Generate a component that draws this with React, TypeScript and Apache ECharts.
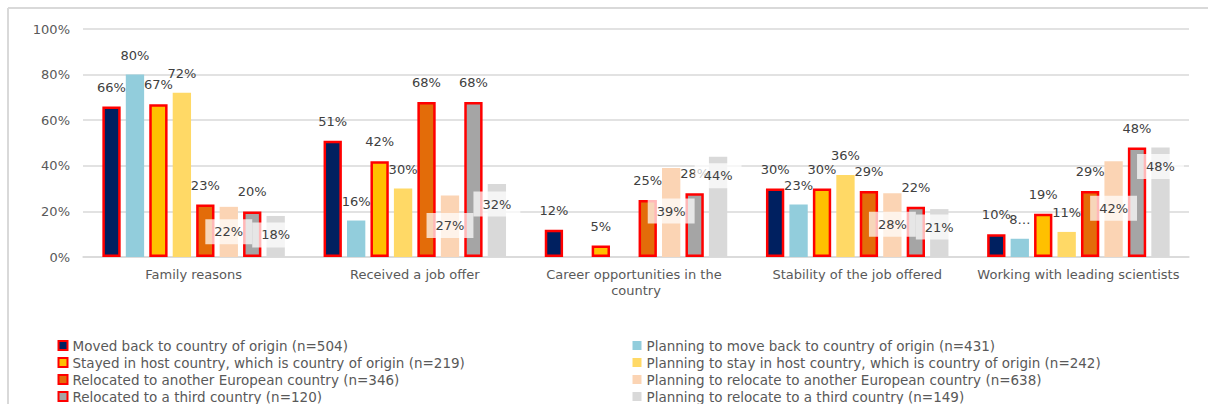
import React, { useEffect, useRef } from 'react';
import * as echarts from 'echarts';

const categories = [
  'Family reasons',
  'Received a job offer',
  'Career opportunities in the country',
  'Stability of the job offered',
  'Working with leading scientists',
];

const seriesNames = [
  'Moved back to country of origin (n=504)',
  'Planning to move back to country of origin (n=431)',
  'Stayed in host country, which is country of origin (n=219)',
  'Planning to stay in host country, which is country of origin (n=242)',
  'Relocated to another European country (n=346)',
  'Planning to relocate to another European country (n=638)',
  'Relocated to a third country (n=120)',
  'Planning to relocate to a third country (n=149)',
];

const movedBack = [66, 51, 12, 30, 10];
const planMoveBack = [80, 16, null, 23, 8];
const stayed = [67, 42, 5, 30, 19];
const planStay = [72, 30, null, 36, 11];
const relocEurope = [23, 68, 25, 29, 29];
const planRelocEurope = [22, 27, 39, 28, 42];
const relocThird = [20, 68, 28, 22, 48];
const planRelocThird = [18, 32, 44, 21, 48];

const yTicks = [0, 20, 40, 60, 80, 100];

// styling
const colors = ['#002060', '#92CDDC', '#FFC000', '#FFD966', '#E36C09', '#FBD4B4', '#A5A5A5', '#D9D9D9'];
const bordered = [true, false, true, false, true, false, true, false];
// label centre offset below bar top (px) for the boxed labels
const boxedOffsets: Record<number, number[]> = {
  5: [25, 30, 43, 31, 47],
  7: [19, 20, 19, 18, 19],
};
// label shown truncated in the original
const truncated: Record<string, boolean> = { '1-4': true };

const FONT = 'DejaVu Sans, Verdana, sans-serif';

export default function App() {
  const ref = useRef<HTMLDivElement>(null);
  useEffect(() => {
    if (!ref.current) return;
    const chart = echarts.init(ref.current, undefined, { renderer: 'svg' });
    const seriesData = [movedBack, planMoveBack, stayed, planStay, relocEurope, planRelocEurope, relocThird, planRelocThird];

    const series = seriesData.map((vals, i) => ({
      type: 'bar',
      name: seriesNames[i],
      barCategoryGap: '17.5%',
      barGap: '28%',
      itemStyle: {
        color: colors[i],
        borderColor: bordered[i] ? '#FF0000' : colors[i],
        borderWidth: bordered[i] ? 2.5 : 0,
      },
      label: {
        show: true,
        position: 'top',
        distance: 13,
        formatter: '{c}%',
        color: '#404040',
        fontSize: 13,
        fontFamily: FONT,
      },
      data: vals.map((v, j) => {
        if (v === null) return null;
        const item: any = { value: v };
        if (boxedOffsets[i]) {
          item.label = {
            position: ['50%', boxedOffsets[i][j]],
            align: 'center',
            verticalAlign: 'middle',
            backgroundColor: 'rgba(255,255,255,0.72)',
            padding: [6, 9],
          };
        }
        if (truncated[`${i}-${j}`]) {
          item.label = { formatter: '{c}…' };
        }
        return item;
      }),
    }));

    const legendItems = (idx: number[]) =>
      idx.map((i) => ({
        name: seriesNames[i],
        itemStyle: bordered[i]
          ? { color: colors[i], borderColor: '#FF0000', borderWidth: 2 }
          : { color: colors[i], borderWidth: 0 },
      }));

    const legendBase = {
      orient: 'vertical',
      top: 337.5,
      height: 80,
      padding: 0,
      itemWidth: 9,
      itemHeight: 9,
      itemGap: 1,
      icon: 'rect',
      textStyle: { color: '#595959', fontSize: 13.5, fontFamily: FONT, lineHeight: 16 },
    };

    chart.setOption({
      animation: false,
      backgroundColor: '#ffffff',
      graphic: [
        { type: 'line', shape: { x1: 8, y1: 8, x2: 1208, y2: 8 }, style: { stroke: '#D9D9D9', lineWidth: 2 } },
        { type: 'line', shape: { x1: 8, y1: 8, x2: 8, y2: 404 }, style: { stroke: '#D9D9D9', lineWidth: 2 } },
      ],
      grid: { left: 83, right: 19, top: 29, bottom: 147, containLabel: false },
      legend: [
        { ...legendBase, left: 57.5, data: legendItems([0, 2, 4, 6]) },
        { ...legendBase, left: 632.5, data: legendItems([1, 3, 5, 7]) },
      ],
      xAxis: {
        type: 'category',
        data: categories,
        axisLine: { show: true, lineStyle: { color: '#D9D9D9', width: 1.5 } },
        axisTick: { show: false },
        axisLabel: {
          color: '#595959',
          fontSize: 13,
          fontFamily: FONT,
          margin: 9,
          lineHeight: 16,
          width: 215,
          overflow: 'break',
          interval: 0,
        },
      },
      yAxis: {
        type: 'value',
        min: yTicks[0],
        max: yTicks[yTicks.length - 1],
        interval: 20,
        axisLine: { show: false },
        axisTick: { show: false },
        splitLine: { lineStyle: { color: '#D9D9D9', width: 1.5 } },
        axisLabel: { color: '#595959', fontSize: 13, fontFamily: FONT, margin: 13, formatter: '{value}%' },
      },
      series,
    });
    return () => chart.dispose();
  }, []);
  return <div ref={ref} style={{ position: 'absolute', left: 0, top: 0, width: 1208, height: 404 }} />;
}
